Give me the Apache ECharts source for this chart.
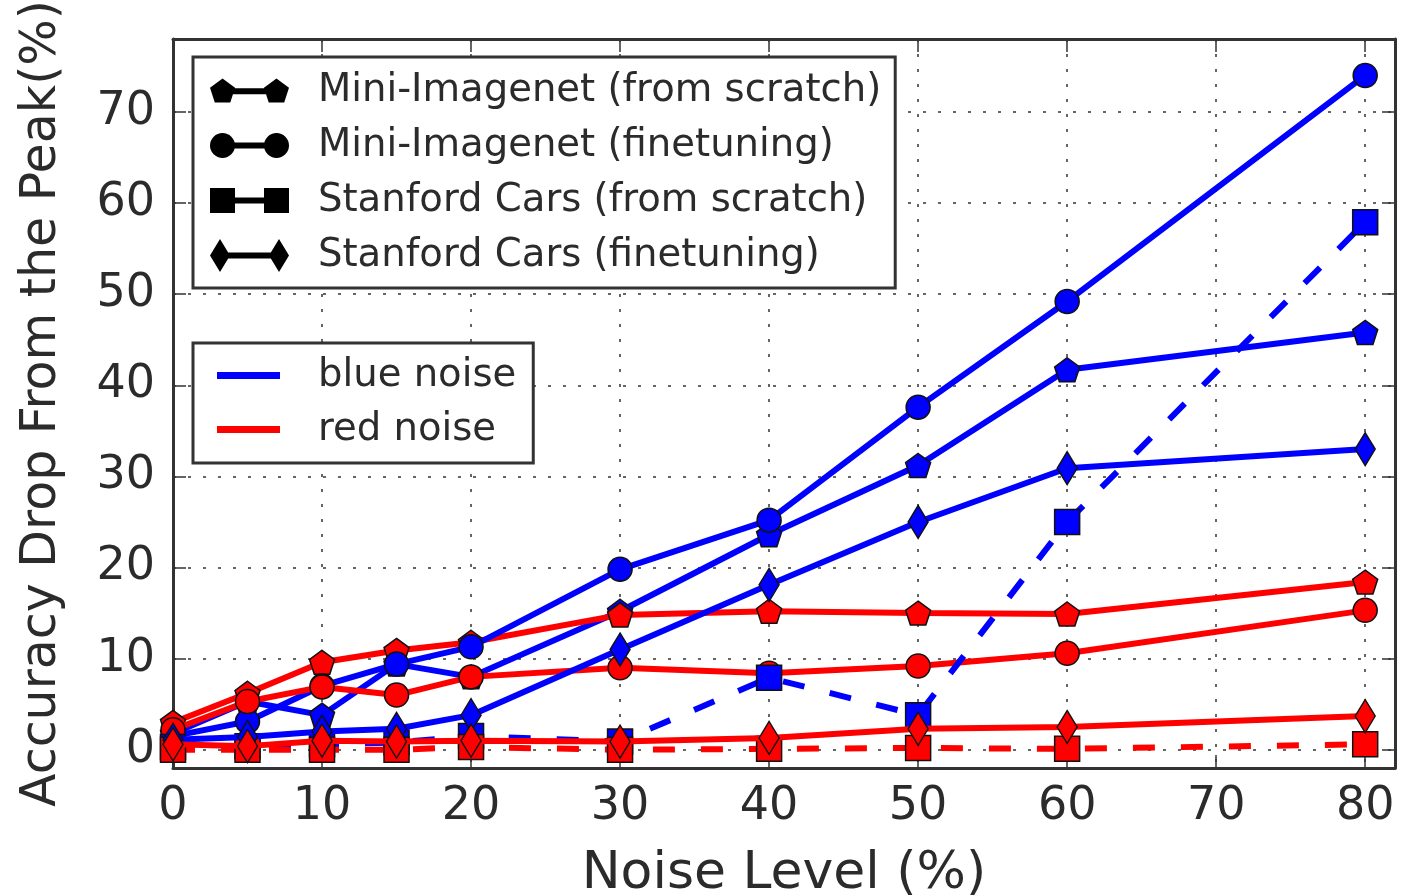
<!DOCTYPE html>
<html><head><meta charset="utf-8">
<script src="https://cdn.jsdelivr.net/npm/echarts@6/dist/echarts.min.js"></script>
<style>html,body{margin:0;padding:0;background:#fff;overflow:hidden}#c{width:1402px;height:895px}</style>
</head><body><div id="c"></div>
<script>
// ---- data ----
const noiseLevels = [0, 5, 10, 15, 20, 30, 40, 50, 60, 80];
const blueMiniScratch   = [1.8, 5.3, 3.8, 9.4, 8.0, 15.2, 23.6, 31.2, 41.7, 45.8];
const blueMiniFinetune  = [1.5, 3.1, 7.0, 9.4, 11.3, 19.8, 25.2, 37.6, 49.2, 74.0];
const blueCarsScratch   = [0.3, 0.4, 0.6, 0.8, 1.5, 0.9, 7.9, 3.8, 25.0, 57.9];
const blueCarsFinetune  = [1.1, 1.4, 2.0, 2.3, 3.8, 11.0, 18.1, 25.0, 30.9, 33.0];
const redMiniScratch    = [3.0, 6.2, 9.6, 10.9, 11.8, 14.8, 15.2, 15.0, 14.9, 18.4];
const redMiniFinetune   = [2.2, 5.3, 6.9, 6.0, 8.0, 9.0, 8.4, 9.2, 10.6, 15.3];
const redCarsScratch    = [0.0, 0.0, 0.0, 0.0, 0.3, 0.0, 0.1, 0.2, 0.1, 0.6];
const redCarsFinetune   = [0.6, 0.4, 1.0, 0.9, 1.0, 0.9, 1.3, 2.3, 2.5, 3.7];
const xTickLabels = [0, 10, 20, 30, 40, 50, 60, 70, 80];
const yTickLabels = [0, 10, 20, 30, 40, 50, 60, 70];
const datasetNames = ['Mini-Imagenet (from scratch)', 'Mini-Imagenet (finetuning)', 'Stanford Cars (from scratch)', 'Stanford Cars (finetuning)'];
const noiseNames = ['blue noise', 'red noise'];

// ---- styles ----
const FONT = 'DejaVu Sans';
const TXT = '#2b2b2b';
const BLUE = '#0000ff', RED = '#ff0000';
const PENT = 'path://M12.4,0 L24.76,8.98 L20.04,23.52 L4.76,23.52 L0.04,8.98 Z';
const icPent = 'path://M12.4,0 L24.76,8.98 L20.04,23.52 L4.76,23.52 L0.04,8.98 Z M65.6,0 L77.96,8.98 L73.24,23.52 L57.96,23.52 L53.24,8.98 Z M20,9.5 L58,9.5 L58,15.5 L20,15.5 Z';
const icCirc = 'path://M0,12.5 A12.5,12.5 0 1 1 25,12.5 A12.5,12.5 0 1 1 0,12.5 Z M54,12.5 A12.5,12.5 0 1 1 79,12.5 A12.5,12.5 0 1 1 54,12.5 Z M24,9.5 L55,9.5 L55,15.5 L24,15.5 Z';
const icSq = 'path://M0,0 L25,0 L25,25 L0,25 Z M54,0 L79,0 L79,25 L54,25 Z M24,9.5 L55,9.5 L55,15.5 L24,15.5 Z';
const icDia = 'path://M10,0 L20,16.5 L10,33 L0,16.5 Z M69,0 L79,16.5 L69,33 L59,16.5 Z M18,13.5 L61,13.5 L61,19.5 L18,19.5 Z';

function mk(name, vals, color, symbol, size, dashed, z) {
  return {
    type: 'line', name: name, z: z,
    data: noiseLevels.map((x, i) => [x, vals[i]]),
    symbol: symbol, symbolSize: size, showSymbol: true, showAllSymbol: true,
    lineStyle: { color: color, width: 6, type: dashed ? [22, 26] : 'solid' },
    itemStyle: { color: color, borderColor: '#111', borderWidth: 1.5 },
    emphasis: { disabled: true }, animation: false
  };
}
const dummy = (name, color) => ({ type: 'line', name: name, data: [], symbol: 'none', itemStyle: { color: color }, lineStyle: { color: color } });

const series = [
  mk('b0', blueMiniScratch, BLUE, PENT, [25, 24], false, 2),
  mk('r0', redMiniScratch, RED, PENT, [25, 24], false, 3),
  mk('b1', blueMiniFinetune, BLUE, 'circle', 24, false, 4),
  mk('r1', redMiniFinetune, RED, 'circle', 24, false, 5),
  mk('b2', blueCarsScratch, BLUE, 'rect', 25, true, 6),
  mk('r2', redCarsScratch, RED, 'rect', 25, true, 7),
  mk('b3', blueCarsFinetune, BLUE, 'diamond', [20, 33], false, 8),
  mk('r3', redCarsFinetune, RED, 'diamond', [20, 33], false, 9),
  dummy(datasetNames[0], '#000'), dummy(datasetNames[1], '#000'),
  dummy(datasetNames[2], '#000'), dummy(datasetNames[3], '#000'),
  dummy(noiseNames[0], BLUE), dummy(noiseNames[1], RED)
];

const axisLineStyle = { color: '#333', width: 3 };
const tickStyle = { show: true, inside: true, length: 13, lineStyle: { color: '#333', width: 1.5 } };
const yTickStyle = Object.assign({}, tickStyle, { customValues: yTickLabels });
const gridLine = { show: true, lineStyle: { type: [3, 12], color: '#333', width: 1.5 } };

const option = {
  backgroundColor: '#fff',
  animation: false,
  grid: { left: 173, right: 7, top: 39, bottom: 127, containLabel: false, outerBoundsMode: 'none' },
  xAxis: [
    { type: 'value', min: 0, max: 82, interval: 10, position: 'bottom',
      axisLine: { show: true, onZero: false, lineStyle: axisLineStyle },
      axisTick: tickStyle, splitLine: gridLine,
      axisLabel: { fontFamily: FONT, fontSize: 46, color: TXT, margin: 16,
        formatter: v => xTickLabels.includes(v) ? String(v) : '' },
      name: 'Noise Level (%)', nameLocation: 'middle', nameGap: 80,
      nameTextStyle: { fontFamily: FONT, fontSize: 52, color: TXT } },
    { type: 'value', min: 0, max: 82, interval: 10, position: 'top',
      axisLine: { show: true, onZero: false, lineStyle: axisLineStyle },
      axisTick: tickStyle, splitLine: { show: false }, axisLabel: { show: false } }
  ],
  yAxis: [
    { type: 'value', min: -2, max: 78, position: 'left',
      axisLine: { show: true, onZero: false, lineStyle: axisLineStyle },
      axisTick: yTickStyle, splitLine: gridLine,
      axisLabel: { fontFamily: FONT, fontSize: 46, color: TXT, margin: 18, customValues: yTickLabels },
      name: 'Accuracy Drop From the Peak(%)', nameLocation: 'middle', nameGap: 106, nameRotate: 90,
      nameTextStyle: { fontFamily: FONT, fontSize: 49, color: TXT } },
    { type: 'value', min: -2, max: 78, position: 'right',
      axisLine: { show: true, onZero: false, lineStyle: axisLineStyle },
      axisTick: yTickStyle, splitLine: { show: false }, axisLabel: { show: false } }
  ],
  legend: [
    { orient: 'vertical', left: 193, top: 57, padding: [14, 14, 13, 17],
      itemWidth: 79, itemHeight: 33, itemGap: 16, selectedMode: false,
      backgroundColor: '#fff', borderColor: '#333', borderWidth: 3, borderRadius: 0,
      textStyle: { fontFamily: FONT, fontSize: 38.6, color: TXT, padding: [0, 0, 0, 24] },
      data: [
        { name: datasetNames[0], icon: icPent, itemStyle: { color: '#000', borderWidth: 0 } },
        { name: datasetNames[1], icon: icCirc, itemStyle: { color: '#000', borderWidth: 0 } },
        { name: datasetNames[2], icon: icSq, itemStyle: { color: '#000', borderWidth: 0 } },
        { name: datasetNames[3], icon: icDia, itemStyle: { color: '#000', borderWidth: 0 } }
      ] },
    { orient: 'vertical', left: 193, top: 343, padding: [13, 17, 14, 24],
      itemWidth: 63, itemHeight: 7, itemGap: 15, selectedMode: false,
      backgroundColor: '#fff', borderColor: '#333', borderWidth: 3, borderRadius: 0,
      textStyle: { fontFamily: FONT, fontSize: 38.6, color: TXT, padding: [0, 0, 0, 33] },
      data: [
        { name: noiseNames[0], icon: 'rect', itemStyle: { color: BLUE, borderWidth: 0 } },
        { name: noiseNames[1], icon: 'rect', itemStyle: { color: RED, borderWidth: 0 } }
      ] }
  ],
  series: series
};
const chart = echarts.init(document.getElementById('c'), null, { renderer: 'canvas' });
chart.setOption(option);
</script>
</body></html>
